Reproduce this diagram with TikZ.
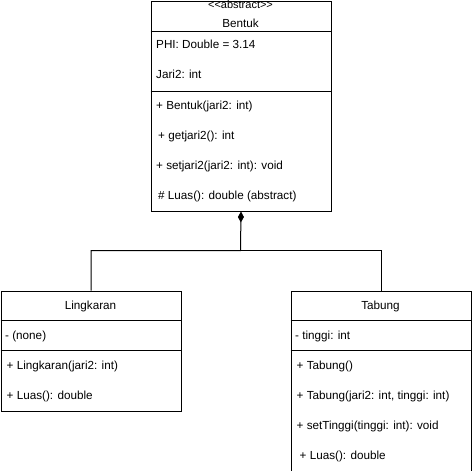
\documentclass[tikz,border=0pt]{standalone}
\usepackage{fontspec}
\setmainfont{Liberation Sans}
\usetikzlibrary{arrows.meta}
\begin{document}
\begin{tikzpicture}[x=1pt,y=-1pt,
  umlbox/.style={draw=black,line width=1pt,fill=white,rectangle,inner sep=0pt,anchor=north west},
  sepline/.style={draw=black,line width=1pt},
  txt/.style={anchor=base west,inner sep=0pt,font=\fontsize{11.7}{14}\selectfont},
  ctxt/.style={anchor=base,inner sep=0pt,font=\fontsize{11.7}{14}\selectfont},
  stereo/.style={anchor=base,inner sep=0pt,font=\fontsize{11}{12}\selectfont},
  conn/.style={draw=black,line width=1pt}]
\fill[white] (0,0) rectangle (472,471);
\useasboundingbox (0,0) rectangle (472,471);
% Bentuk
\node[umlbox,minimum width=180pt,minimum height=210pt] (bentuk) at (150.5,0.5) {};
\draw[sepline] (150.5,31) -- (330.5,31);
\draw[sepline] (150.5,91) -- (330.5,91);
\node[stereo] (bst) at (240.5,9) {<{}<abstract>{}>};
\node[ctxt] (bname) at (240.5,27.3) {Bentuk};
\node[txt] (b1) at (156,48.5) {PHI: Double = 3.14};
\node[txt] (b2) at (156,78.5) {Jari2: int};
\node[txt] (b3) at (156,109) {+ Bentuk(jari2: int)};
\node[txt] (b4) at (158,139) {+ getjari2(): int};
\node[txt] (b5) at (156,169) {+ setjari2(jari2: int): void};
\node[txt] (b6) at (158,199) {\# Luas(): double (abstract)};
% Lingkaran
\node[umlbox,minimum width=180pt,minimum height=120pt] (ling) at (0.5,290.5) {};
\draw[sepline] (0.5,320.5) -- (180.5,320.5);
\draw[sepline] (0.5,350.5) -- (180.5,350.5);
\node[ctxt] (lname) at (90.5,309.3) {Lingkaran};
\node[txt] (l1) at (5,339) {- (none)};
\node[txt] (l2) at (6.5,369) {+ Lingkaran(jari2: int)};
\node[txt] (l3) at (6.5,399) {+ Luas(): double};
% Tabung
\node[umlbox,minimum width=180pt,minimum height=180pt] (tab) at (290.5,290.5) {};
\draw[sepline] (290.5,320.5) -- (470.5,320.5);
\draw[sepline] (290.5,350.5) -- (470.5,350.5);
\node[ctxt] (tname) at (380.5,309.3) {Tabung};
\node[txt] (t1) at (295,339) {- tinggi: int};
\node[txt] (t2) at (296.5,369) {+ Tabung()};
\node[txt] (t3) at (296.5,399) {+ Tabung(jari2: int, tinggi: int)};
\node[txt] (t4) at (296.5,429) {+ setTinggi(tinggi: int): void};
\node[txt] (t5) at (299.5,459) {+ Luas(): double};
% connectors
\coordinate (j) at (240.5,250.5);
\draw[conn,-{Diamond[length=11pt,width=6pt]}] (ling.north) |- (j) -- (bentuk.south);
\draw[conn] (tab.north) |- (j);
\end{tikzpicture}
\end{document}
